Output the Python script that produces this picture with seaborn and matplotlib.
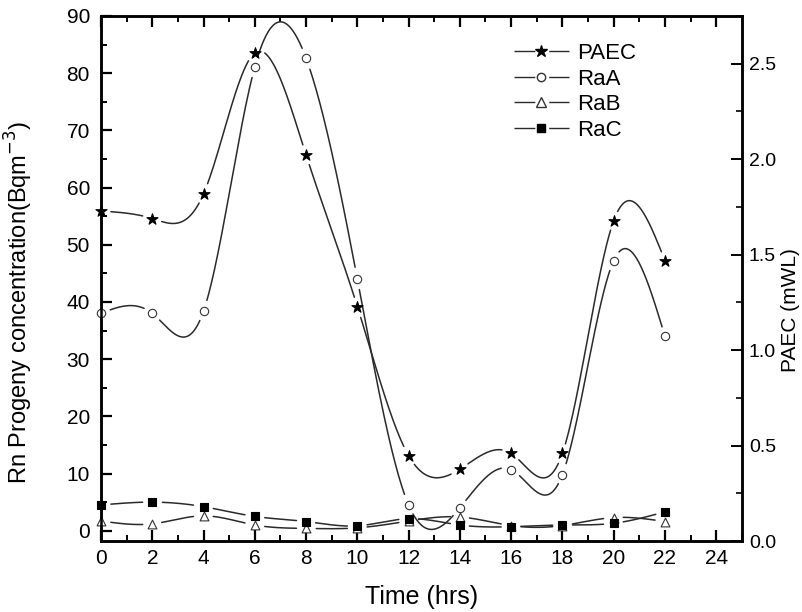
import numpy as np
import pandas as pd
import matplotlib
matplotlib.use("Agg")
import matplotlib.pyplot as plt
import seaborn as sns
from matplotlib.lines import Line2D
from matplotlib.ticker import MultipleLocator

# ---- data ----
time_hrs = [0, 2, 4, 6, 8, 10, 12, 14, 16, 18, 20, 22]
paec_mwl = [1.728, 1.689, 1.818, 2.557, 2.022, 1.228, 0.447, 0.376, 0.459, 0.459, 1.677, 1.468]
raa = [38.0, 38.0, 38.4, 81.1, 82.6, 44.0, 4.5, 4.0, 10.7, 9.8, 47.2, 34.0]
rab = [1.7, 1.2, 2.6, 1.0, 0.4, 0.5, 1.7, 2.4, 0.9, 0.9, 2.3, 1.6]
rac = [4.5, 5.0, 4.2, 2.5, 1.6, 0.85, 2.1, 1.0, 0.7, 1.0, 1.3, 3.3]
x_ticks = [0, 2, 4, 6, 8, 10, 12, 14, 16, 18, 20, 22, 24]
left_ticks = [0, 10, 20, 30, 40, 50, 60, 70, 80, 90]
right_ticks = [0.0, 0.5, 1.0, 1.5, 2.0, 2.5]
legend_labels = ['PAEC', 'RaA', 'RaB', 'RaC']

sns.set_style("ticks")
plt.rcParams['font.family'] = ['Liberation Sans', 'DejaVu Sans']
plt.rcParams['text.color'] = 'black'
plt.rcParams['axes.labelcolor'] = 'black'
plt.rcParams['xtick.color'] = 'black'
plt.rcParams['ytick.color'] = 'black'
NARROW = ['Liberation Sans Narrow', 'Liberation Sans', 'DejaVu Sans']

fig = plt.figure(figsize=(8.03, 6.12), dpi=100)
ax = fig.add_axes([0.1258, 0.116, 0.798, 0.858])
ax2 = ax.twinx()

ax.set_xlim(0, 25)
ax.set_ylim(-1.8, 90)
ax2.set_ylim(0, 2.75)

LC = '#2a2a2a'


def natural_spline(x, y, n=800):
    x = np.asarray(x, float)
    y = np.asarray(y, float)
    k = len(x)
    h = np.diff(x)
    A = np.zeros((k, k))
    b = np.zeros(k)
    A[0, 0] = 1
    A[-1, -1] = 1
    for i in range(1, k - 1):
        A[i, i - 1] = h[i - 1]
        A[i, i] = 2 * (h[i - 1] + h[i])
        A[i, i + 1] = h[i]
        b[i] = 6 * ((y[i + 1] - y[i]) / h[i] - (y[i] - y[i - 1]) / h[i - 1])
    M = np.linalg.solve(A, b)
    xs = np.linspace(x[0], x[-1], n)
    idx = np.clip(np.searchsorted(x, xs) - 1, 0, k - 2)
    x0, x1 = x[idx], x[idx + 1]
    hh = x1 - x0
    t1 = x1 - xs
    t0 = xs - x0
    ys = (M[idx] * t1 ** 3 / (6 * hh) + M[idx + 1] * t0 ** 3 / (6 * hh)
          + (y[idx] / hh - M[idx] * hh / 6) * t1
          + (y[idx + 1] / hh - M[idx + 1] * hh / 6) * t0)
    return xs, ys


def gapped(axis, x, y, gap_px=9.5):
    xs, ys = natural_spline(x, y)
    trans = axis.transData
    pts = trans.transform(np.column_stack([xs, ys]))
    mk = trans.transform(np.column_stack([x, y]))
    d = np.min(np.hypot(pts[:, None, 0] - mk[None, :, 0], pts[:, None, 1] - mk[None, :, 1]), axis=1)
    ys = ys.copy()
    ys[d < gap_px] = np.nan
    return xs, ys


fig.canvas.draw()

series = [
    (ax2, paec_mwl, '*', 'black', 'black', 70),
    (ax, raa, 'o', 'white', '#333333', 36),
    (ax, rab, '^', 'white', '#333333', 40),
    (ax, rac, 's', 'black', 'black', 32),
]
for axis, vals, mk, fc, ec, s in series:
    xs, ys = gapped(axis, time_hrs, vals)
    df = pd.DataFrame({'x': xs, 'y': ys})
    axis.plot(df['x'], df['y'], color=LC, lw=1.1, zorder=2)
    sns.scatterplot(x=time_hrs, y=vals, ax=axis, marker=mk, s=s, color=fc,
                    edgecolor=ec, linewidth=0.8, zorder=3, legend=False, clip_on=False)

ax.set_xlim(0, 25)
ax.set_ylim(-1.8, 90)
ax2.set_ylim(0, 2.75)

# ticks
ax.set_xticks(x_ticks)
ax.set_xticklabels([str(t) for t in x_ticks], family=NARROW, fontsize=15)
ax.xaxis.set_minor_locator(MultipleLocator(1))
ax.set_yticks(left_ticks)
ax.set_yticklabels([str(t) for t in left_ticks], fontsize=15)
ax.yaxis.set_minor_locator(MultipleLocator(5))
ax2.set_yticks(right_ticks)
ax2.set_yticklabels([f"{t:.1f}" for t in right_ticks], fontsize=14)
ax2.yaxis.set_minor_locator(MultipleLocator(0.25))

ax.tick_params(axis='both', which='major', direction='in', length=8, width=1.6, top=True)
ax.tick_params(axis='both', which='minor', direction='in', length=4, width=1.4, top=True)
ax.tick_params(axis='y', which='both', right=False, pad=8)
ax.tick_params(axis='x', which='major', pad=6)
ax2.tick_params(axis='y', which='major', direction='in', length=8, width=1.4, pad=5)
ax2.tick_params(axis='y', which='minor', direction='in', length=4, width=1.2)

for a in (ax, ax2):
    for sp in a.spines.values():
        sp.set_linewidth(1.8)
        sp.set_visible(True)
        sp.set_color('black')

ax.set_xlabel('Time (hrs)', fontsize=18, family=NARROW)
ax.xaxis.set_label_coords(0.5, -0.084)
ax.set_ylabel('Rn Progeny concentration(Bqm$^{-3}$)', fontsize=17)
ax.yaxis.set_label_coords(-0.103, 0.455)
ax2.set_ylabel('PAEC (mWL)', fontsize=15)
ax2.yaxis.set_label_coords(1.061, 0.44)

handles = []
for mk, ms, fc, ec in [('*', 9, 'black', 'black'), ('o', 6, 'white', '#333333'),
                       ('^', 6.5, 'white', '#333333'), ('s', 6, 'black', 'black')]:
    ln = Line2D([], [], color=LC, lw=1.0, linestyle=(0, (15, 10, 15, 40)))
    m = Line2D([], [], linestyle='none', marker=mk, markersize=ms, markerfacecolor=fc, markeredgecolor=ec)
    handles.append((ln, m))
ax2.legend(handles, legend_labels, loc='upper left', bbox_to_anchor=(0.63, 0.965),
           frameon=False, fontsize=16, handlelength=2.5, handletextpad=0.35, labelspacing=0.2,
           borderaxespad=0)

fig.savefig('out.png', dpi=100)
